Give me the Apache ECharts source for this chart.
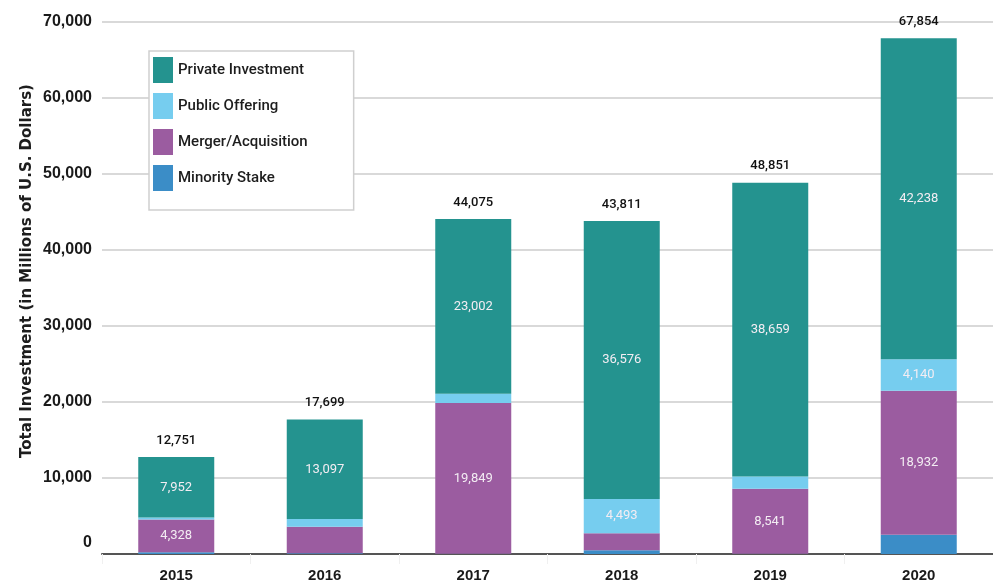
<!DOCTYPE html>
<html>
<head>
<meta charset="utf-8">
<script src="https://cdn.jsdelivr.net/npm/echarts@6/dist/echarts.min.js"></script>
<style>
  html, body { margin: 0; padding: 0; background: #fff; }
  #chart { width: 993px; height: 583px; }
</style>
</head>
<body>
<div id="chart"></div>
<script>
// categories and values (millions of USD)
const years = ["2015", "2016", "2017", "2018", "2019", "2020"];
const minorityStake = [221, 100, 30, 480, 31, 2544];
const mergerAcquisition = [4328, 3480, 19849, 2262, 8541, 18932];
const publicOffering = [250, 1022, 1194, 4493, 1620, 4140];
const privateInvestment = [7952, 13097, 23002, 36576, 38659, 42238];
const totals = [12751, 17699, 44075, 43811, 48851, 67854];
const yTicks = [0, 10000, 20000, 30000, 40000, 50000, 60000, 70000];

const colors = {
  pi: "#24938f",
  po: "#76cdef",
  ma: "#9b5ca0",
  ms: "#3b8dc7",
};

const fmt = (v) => v.toLocaleString("en-US");

// inside labels only for the bigger segments
const insideLabel = {
  show: true,
  position: "inside",
  color: "#f3edf3",
  fontFamily: "Roboto",
  fontSize: 13,
  formatter: (p) => (p.value >= 4000 ? fmt(p.value) : ""),
};

const makeSeries = (name, data, color) => ({
  name: name,
  type: "bar",
  stack: "total",
  data: data,
  barWidth: 76,
  animation: false,
  itemStyle: { color: color },
  label: insideLabel,
});

const chart = echarts.init(document.getElementById("chart"), null, { renderer: "canvas" });

chart.setOption({
  backgroundColor: "#fff",
  grid: { left: 102, right: -5, top: 22, bottom: 29, containLabel: false },
  legend: {
    data: ["Private Investment", "Public Offering", "Merger/Acquisition", "Minority Stake"],
    orient: "vertical",
    left: 149,
    top: 51,
    itemWidth: 20,
    itemHeight: 26,
    itemGap: 10,
    padding: [6, 46, 19, 4],
    borderColor: "#cfcfcf",
    borderWidth: 1.5,
    backgroundColor: "#fff",
    icon: "rect",
    textStyle: { fontFamily: "Roboto", fontSize: 15, fontWeight: 500, color: "#1d1d1d" },
  },
  xAxis: {
    type: "category",
    data: years,
    axisLine: { lineStyle: { color: "#555", width: 2 } },
    axisTick: { show: true, length: 10, lineStyle: { color: "#f0f0f0", width: 1 } },
    axisLabel: {
      margin: 14,
      fontFamily: "Liberation Sans",
      fontWeight: "bold",
      fontSize: 15,
      color: "#1a1a1a",
    },
  },
  yAxis: {
    type: "value",
    min: 0,
    max: 70000,
    interval: 10000,
    axisLine: { show: false },
    axisTick: { show: false },
    splitLine: { lineStyle: { color: "#d9d9d9", width: 2 } },
    axisLabel: {
      margin: 10,
      fontFamily: "Liberation Sans",
      fontWeight: "bold",
      fontSize: 16,
      color: "#1a1a1a",
      formatter: (v) => (v === 0 ? "{z|0}" : fmt(v)),
      rich: {
        z: {
          fontFamily: "Liberation Sans",
          fontWeight: "bold",
          fontSize: 16,
          color: "#1a1a1a",
          padding: [0, 0, 22, 0],
        },
      },
    },
  },
  graphic: [
    {
      type: "text",
      x: 27,
      y: 271,
      rotation: Math.PI / 2,
      style: {
        text: "Total Investment (in Millions of U.S. Dollars)",
        fontFamily: "DejaVu Sans",
        fontWeight: "bold",
        fontSize: 15,
        fill: "#1d1d1d",
        align: "center",
        verticalAlign: "middle",
      },
    },
  ],
  series: [
    makeSeries("Minority Stake", minorityStake, colors.ms),
    makeSeries("Merger/Acquisition", mergerAcquisition, colors.ma),
    makeSeries("Public Offering", publicOffering, colors.po),
    makeSeries("Private Investment", privateInvestment, colors.pi),
    {
      // zero-height bar carrying the total on top of each stack
      name: "Total",
      type: "bar",
      stack: "total",
      data: totals.map(() => 0),
      barWidth: 76,
      animation: false,
      itemStyle: { color: "transparent" },
      label: {
        show: true,
        position: "top",
        distance: 10,
        color: "#111",
        fontFamily: "Roboto",
        fontWeight: 500,
        fontSize: 13,
        formatter: (p) => fmt(totals[p.dataIndex]),
      },
    },
  ],
});
</script>
</body>
</html>
